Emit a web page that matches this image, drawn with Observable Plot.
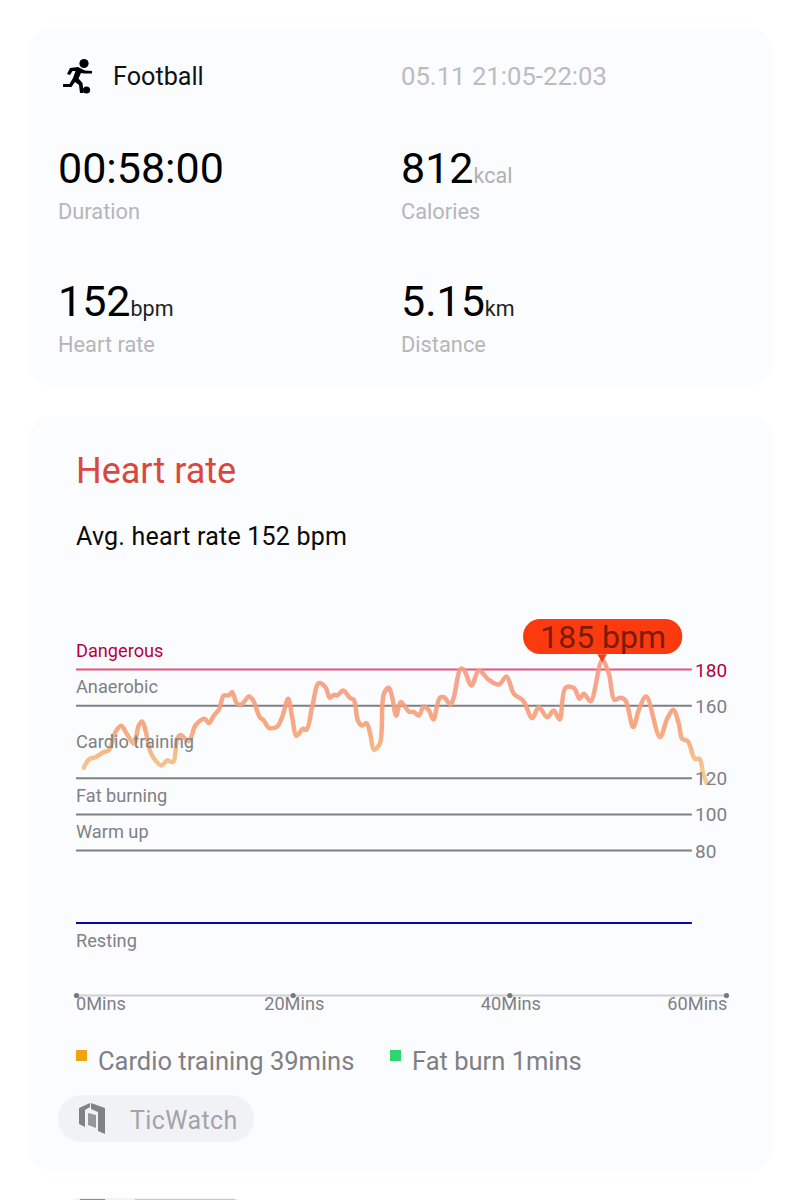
<!DOCTYPE html>
<html><head><meta charset="utf-8">
<script src="https://cdn.jsdelivr.net/npm/d3@7"></script>
<script src="https://cdn.jsdelivr.net/npm/@observablehq/plot@0.6"></script>
<style>
html,body{margin:0;padding:0;background:#fff;}
body{position:relative;width:802px;height:1200px;overflow:hidden;font-family:Roboto,sans-serif;}
.card{position:absolute;left:28px;width:745px;background:#fbfcfe;border-radius:24px;}
.t{position:absolute;transform:translateY(-50%);line-height:1;white-space:nowrap;}
.big{font-size:43px;color:#000;}
.unit{font-size:21.5px;}
.lab{font-size:21.8px;color:#b6b6b8;}
.sq{position:absolute;width:11px;height:11px;}
#chart{position:absolute;left:0;top:600px;}
#chart svg{background:transparent;overflow:visible;}
</style></head><body>
<div class="card" style="top:28px;height:358px"></div>
<div class="card" style="top:416px;height:755px"></div>

<svg style="position:absolute;left:62px;top:58px" width="34" height="36" viewBox="0 0 34 36">
<circle cx="22" cy="5.5" r="4.6" fill="#000"/><circle cx="24.5" cy="32" r="3.6" fill="#000"/>
<path d="M16 9 L8 10 L5 16 L8 17 L10.5 13 L13.5 13 L11 20 L7.5 26 L1 26 L1 29 L9.5 29 L13 24 L17 27 L18 35 L21.5 35 L20.5 25 L16.5 20.5 L19 15 L22 15.5 L30 15.5 L30 13 L23 12.5 Z" fill="#000"/>
</svg>
<div class="t" style="left:113px;top:77px;font-size:25.2px;color:#111">Football</div>
<div class="t" style="left:401px;top:77px;font-size:25.7px;color:#bcbcbe">05.11 21:05-22:03</div>

<div class="t big" style="left:58px;top:168px">00:58:00</div>
<div class="t lab" style="left:58px;top:212px">Duration</div>
<div class="t big" style="left:401px;top:168px">812<span class="unit" style="color:#b0b0b2">kcal</span></div>
<div class="t lab" style="left:401px;top:212px">Calories</div>
<div class="t big" style="left:58px;top:301px">152<span class="unit" style="color:#222">bpm</span></div>
<div class="t lab" style="left:58px;top:345px">Heart rate</div>
<div class="t big" style="left:401px;top:301px">5.15<span class="unit" style="color:#222">km</span></div>
<div class="t lab" style="left:401px;top:345px">Distance</div>

<div class="t" style="left:76px;top:471px;font-size:36px;color:#d9483f">Heart rate</div>
<div class="t" style="left:76px;top:536px;font-size:25px;letter-spacing:.22px;color:#0a0a0a">Avg. heart rate 152 bpm</div>

<div id="chart"></div>

<div class="sq" style="left:76px;top:1050px;background:#f0a30f"></div>
<div class="t" style="left:98px;top:1062px;font-size:25.5px;color:#808084">Cardio training 39mins</div>
<div class="sq" style="left:390px;top:1050px;background:#2fd56f"></div>
<div class="t" style="left:412px;top:1062px;font-size:25.5px;color:#808084">Fat burn 1mins</div>

<div style="position:absolute;left:58px;top:1095px;width:196px;height:47px;border-radius:24px;background:#f1f2f6"></div>
<svg style="position:absolute;left:79px;top:1103px" width="27" height="32" viewBox="0 0 27 32">
<path d="M0 5 L11 0 L11 4 L6 7 L6 24 L0 21 Z" fill="#808285"/>
<path d="M12 0 L26 5 L26 31 L19 28 L19 9 L12 6 Z" fill="#808285"/>
<path d="M9 10 L17 12 L17 25 L9 22 Z" fill="#96989c"/>
</svg>
<div class="t" style="left:130px;top:1120px;font-size:25px;letter-spacing:.4px;color:#a2a4a9">TicWatch</div>

<div style="position:absolute;left:58px;top:1198px;width:196px;height:47px;border-radius:24px;background:#f1f2f6"></div>
<div style="position:absolute;left:80px;top:1199px;width:25px;height:1px;background:#8a8c90"></div>
<div style="position:absolute;left:135px;top:1199px;width:100px;height:1px;background:#c4c6ca"></div>

<script>
// Elapsed minutes and heart rate of the workout trace
const minutes = [0.68,1.14,1.75,2.52,2.98,3.6,4.12,4.68,5.29,5.75,6.06,6.37,6.83,7.29,7.85,8.37,8.92,9.29,9.6,10.37,10.98,11.82,12.22,12.68,13.14,13.6,14.06,14.37,14.83,15.29,15.91,16.31,16.92,17.29,17.75,18.52,18.98,19.54,19.91,20.31,20.92,21.23,21.75,22.37,22.98,23.38,23.75,24.06,24.62,25.23,25.6,25.97,26.37,26.77,27.14,27.45,28.0,28.37,28.83,29.14,29.51,
29.91,30.37,30.68,31.14,31.6,32.06,32.53,32.93,33.54,33.91,34.53,34.83,35.45,35.76,36.46,37.14,38.06,38.99,39.69,40.37,41.23,42.06,42.68,43.45,44.06,44.59,45.14,45.91,46.43,46.83,47.45,48.52,49.14,49.66,50.22,50.68,51.39,51.91,52.59,53.85,54.52,55.08,55.6,55.91,56.43,57.08,57.51,57.85,58.16];
const bpm = [125.7,130.3,131.6,134.4,135.3,145.4,148.9,144.1,139,149.1,151.3,146.3,134.4,129.8,127,129.8,128.9,141.7,143.9,140.4,149.1,152.8,150.4,154.6,157.8,165.7,165.7,167.5,161,161,165.1,162.9,153.7,151.9,147.8,148.5,153.7,163.8,153.7,143.4,147.3,146.7,159.2,172.5,170.3,164.4,166,165.7,168.4,164.4,163.3,151.9,149.1,150.4,143.6,135.7,139,166.6,169.9,164.7,154.6,
162,159.2,156.8,156.5,154.6,159.6,157.4,152.4,164.4,164.7,160.7,164.7,180.4,179.8,171.2,179.5,174.3,171.7,176.2,166.6,162.9,153.2,159.2,153.7,157.4,152.4,169.9,169.9,163.8,166.6,162.5,185,177.6,163.3,164.4,162.9,148.2,157.8,165.1,142.7,152.8,157.8,150,141.7,140.4,130.7,130.7,122.4,117.3];

// Heart-rate zones: threshold lines, their right-hand tick labels and the zone names
const gridBpm = [180,160,120,100,80];
const gridLabelColors = ["#b8003f","#808084","#808084","#808084","#808084"];
const gridLineColors = ["#e2567e","#808084","#808084","#808084","#808084"];
const restingBpm = 40;
const zoneNames = ["Dangerous","Anaerobic","Cardio training","Fat burning","Warm up","Resting"];
const zoneLabelBpm = [190,170,140,110,90,30];
const zoneLabelColors = ["#b8003f","#808084","#808084","#808084","#808084","#808084"];

// Time axis
const axisTicks = [0,20,40,60];
const startLabel = "0Mins", endLabel = "60Mins";
const midLabels = ["20Mins","40Mins"];
const midLabelMin = [20.1,40.1];
const gridEndMin = 56.85, gridLabelMin = 57.1;

// Peak callout
const peakMin = 48.52, peakBpm = 185;
const peakText = "185 bpm";
const bubbleMin = [41.27,55.96], bubbleBpm = [188.3,207.6];

const trace = minutes.map((m,i)=>({m,b:bpm[i]}));
const idx = a => a.map((_,i)=>i);

const gradientDefs = () => {
  const defs = d3.create("svg:defs");
  const g = defs.append("linearGradient").attr("id","hrGrad").attr("x1",0).attr("x2",0).attr("y1",0).attr("y2",1);
  g.append("stop").attr("offset","0").attr("stop-color","#f99a86");
  g.append("stop").attr("offset","0.55").attr("stop-color","#f5a278");
  g.append("stop").attr("offset","1").attr("stop-color","#f4cc88");
  return defs.node();
};

const chart = Plot.plot({
  width:802, height:440,
  marginLeft:76, marginRight:76, marginBottom:45, marginTop:14.7,
  style:{background:"transparent",fontFamily:"Roboto, sans-serif"},
  x:{domain:[0,60],axis:null},
  y:{domain:[0,210],axis:null},
  marks:[
    gradientDefs,
    Plot.ruleY(gridBpm,{x1:0,x2:gridEndMin,y:d=>d,stroke:(d,i)=>gridLineColors[i],strokeWidth:2}),
    Plot.ruleY([restingBpm],{x1:0,x2:gridEndMin,stroke:"#0a0a9c",strokeWidth:2}),
    Plot.ruleY([0],{x1:0,x2:60,stroke:"#cfd0d2",strokeWidth:2}),
    Plot.dot(axisTicks,{x:d=>d,y:0,r:2.6,fill:"#77797d"}),
    Plot.line(trace,{x:"m",y:"b",curve:"catmull-rom",stroke:"url(#hrGrad)",strokeWidth:4.5,strokeOpacity:.92}),
    Plot.text(idx(zoneNames),{x:0,y:i=>zoneLabelBpm[i],dx:-0.5,text:i=>zoneNames[i],textAnchor:"start",fill:i=>zoneLabelColors[i],fontSize:18.2}),
    Plot.text(idx(gridBpm),{x:gridLabelMin,y:i=>gridBpm[i],dy:1,text:i=>String(gridBpm[i]),textAnchor:"start",fill:i=>gridLabelColors[i],fontSize:19}),
    Plot.text([startLabel],{x:0,y:0,dx:-0.5,dy:9,text:d=>d,textAnchor:"start",fill:"#808084",fontSize:18.2}),
    Plot.text(midLabels,{x:(d,i)=>midLabelMin[i],y:0,dy:9,text:d=>d,fill:"#808084",fontSize:18.2}),
    Plot.text([endLabel],{x:60,y:0,dx:1,dy:9,text:d=>d,textAnchor:"end",fill:"#808084",fontSize:18.2}),
    Plot.rect([0],{x1:bubbleMin[0],x2:bubbleMin[1],y1:bubbleBpm[0],y2:bubbleBpm[1],fill:"#fb3a10",rx:17}),
    Plot.dot([0],{x:peakMin,y:peakBpm+2,symbol:"triangle",rotate:180,r:3.5,fill:"#fb3a10"}),
    Plot.text([peakText],{x:(bubbleMin[0]+bubbleMin[1])/2,y:(bubbleBpm[0]+bubbleBpm[1])/2,dy:1,text:d=>d,fill:"#7c1c08",fontSize:32})
  ]
});
document.getElementById("chart").appendChild(chart);
</script>
</body></html>
